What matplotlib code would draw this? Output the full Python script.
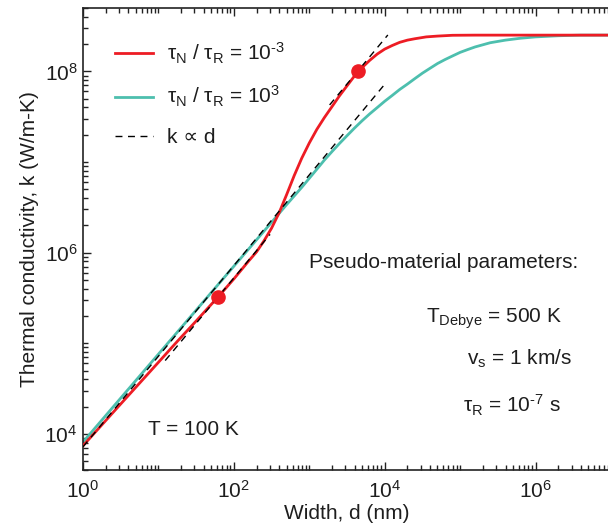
import numpy as np
import matplotlib
matplotlib.use('Agg')
import matplotlib.pyplot as plt
from matplotlib.ticker import LogLocator, LogFormatterSciNotation, NullFormatter

plt.rcParams['font.family'] = ['Liberation Sans', 'DejaVu Sans']
plt.rcParams['mathtext.fontset'] = 'custom'
plt.rcParams['mathtext.rm'] = 'Liberation Sans'
plt.rcParams['mathtext.it'] = 'Liberation Sans:italic'
plt.rcParams['mathtext.default'] = 'regular'

# Width d (nm) and thermal conductivity k (W/m-K)
d_red = [1, 1.78, 3.16, 5.62, 10, 17.8, 31.6, 63.1, 100, 158,
         200, 251, 316, 398, 501, 631, 794, 1000, 1259, 1585,
         1995, 2512, 3162, 3981, 5012, 6310, 7943, 1e4, 1.26e4, 1.58e4,
         2.0e4, 2.51e4, 3.55e4, 5.01e4, 7.94e4, 1.58e5, 1e7]
k_red = [7.41e3, 1.26e4, 2.14e4, 3.63e4, 6.17e4, 1.05e5, 1.76e5, 3.31e5, 5.13e5, 8.13e5,
         1.02e6, 1.35e6, 1.86e6, 2.75e6, 4.37e6, 7.08e6, 1.10e7, 1.62e7, 2.29e7, 3.09e7,
         4.07e7, 5.37e7, 6.92e7, 8.91e7, 1.10e8, 1.32e8, 1.55e8, 1.76e8, 1.93e8, 2.09e8,
         2.21e8, 2.29e8, 2.40e8, 2.45e8, 2.50e8, 2.51e8, 2.51e8]

d_teal = [1, 10, 100, 316, 501, 631, 794, 1000, 1259, 1585,
          1995, 2512, 3162, 3981, 5012, 6310, 7943, 1e4, 1.26e4, 1.58e4,
          2.0e4, 2.51e4, 3.16e4, 3.98e4, 5.01e4, 6.31e4, 7.94e4, 1e5, 1.26e5, 1.58e5,
          2.51e5, 3.98e5, 6.31e5, 1e6, 2.0e6, 3.98e6, 1e7]
k_teal = [8.13e3, 7.59e4, 7.08e5, 2.16e6, 3.39e6, 4.22e6, 5.25e6, 6.61e6, 8.32e6, 1.05e7,
          1.30e7, 1.60e7, 1.95e7, 2.37e7, 2.85e7, 3.39e7, 3.98e7, 4.68e7, 5.43e7, 6.31e7,
          7.24e7, 8.32e7, 9.55e7, 1.08e8, 1.22e8, 1.35e8, 1.48e8, 1.62e8, 1.74e8, 1.86e8,
          2.07e8, 2.21e8, 2.32e8, 2.40e8, 2.47e8, 2.51e8, 2.51e8]

# k proportional to d guide lines (end points)
fit_d = [[1, 1e4], [12.3, 302], [1860, 1.1e4]]
fit_k = [[7.2e3, 7.2e7], [6.45e4, 1.59e6], [4.26e7, 2.52e8]]

# highlighted points on the red curve
mark_d = [61.7, 4470]
mark_k = [3.24e5, 1.02e8]

red = '#ed1c24'
teal = '#4dbfae'
txt = '#1e1e1e'

fig = plt.figure(figsize=(6.08, 5.23), dpi=100)
ax = fig.add_axes([83/608, 1 - 470/523, 528/608, 462/523])

ax.plot(d_red, k_red, color=red, lw=2.0, zorder=3,
        label=r'τ$_\mathregular{N}$ / τ$_\mathregular{R}$ = 10$^{\text{-3}}$')
ax.plot(d_teal, k_teal, color=teal, lw=2.0, zorder=2,
        label=r'τ$_\mathregular{N}$ / τ$_\mathregular{R}$ = 10$^{3}$')
for i, (fd, fk) in enumerate(zip(fit_d, fit_k)):
    ax.plot(fd, fk, color='black', lw=1.0, dashes=(5, 4), zorder=4,
            label='k ∝ d' if i == 0 else None)
ax.plot(mark_d, mark_k, 'o', color=red, ms=9.5, zorder=5)

ax.set_xscale('log')
ax.set_yscale('log')
ax.set_xlim(1, 1e7)
ax.set_ylim(4e3, 5e8)

for axis in (ax.xaxis, ax.yaxis):
    axis.set_major_locator(LogLocator(base=100))
    axis.set_major_formatter(LogFormatterSciNotation(base=10))
    axis.set_minor_locator(LogLocator(base=10, subs=np.arange(1, 10), numticks=20))
    axis.set_minor_formatter(NullFormatter())

ax.tick_params(which='both', direction='in', top=True, right=False,
               color='#222222', width=1.0, labelsize=15, labelcolor=txt)
ax.tick_params(which='major', length=6)
ax.tick_params(which='minor', length=3.5)
ax.tick_params(axis='x', pad=7)
ax.tick_params(axis='y', pad=4)
for s in ax.spines.values():
    s.set_color('#222222')
    s.set_linewidth(1.2)
ax.spines['right'].set_visible(False)

ax.set_xlabel('Width, d (nm)', fontsize=15, color=txt, labelpad=2)
ax.set_ylabel('Thermal conductivity, k (W/m-K)', fontsize=15, color=txt, labelpad=4)

ax.legend(loc='upper left', bbox_to_anchor=(0.06, 0.93), frameon=False,
          fontsize=15, handlelength=1.85, handletextpad=0.65,
          labelspacing=0.9, borderaxespad=0, borderpad=0, labelcolor=txt)

ax.text(0.123, 0.076, 'T = 100 K', transform=ax.transAxes, fontsize=15, color=txt)
ax.text(0.428, 0.437, 'Pseudo-material parameters:', transform=ax.transAxes,
        fontsize=15, color=txt)
ax.text(0.650, 0.318, r'T$_\mathregular{Debye}$ = 500 K', transform=ax.transAxes,
        fontsize=15, color=txt)
ax.text(0.727, 0.229, r'v$_\mathregular{s}$ = 1 km/s', transform=ax.transAxes,
        fontsize=15, color=txt)
ax.text(0.720, 0.124, r'τ$_\mathregular{R}$ = 10$^{\text{-7}}$ s', transform=ax.transAxes,
        fontsize=15, color=txt)

fig.savefig('out.png', dpi=100)
